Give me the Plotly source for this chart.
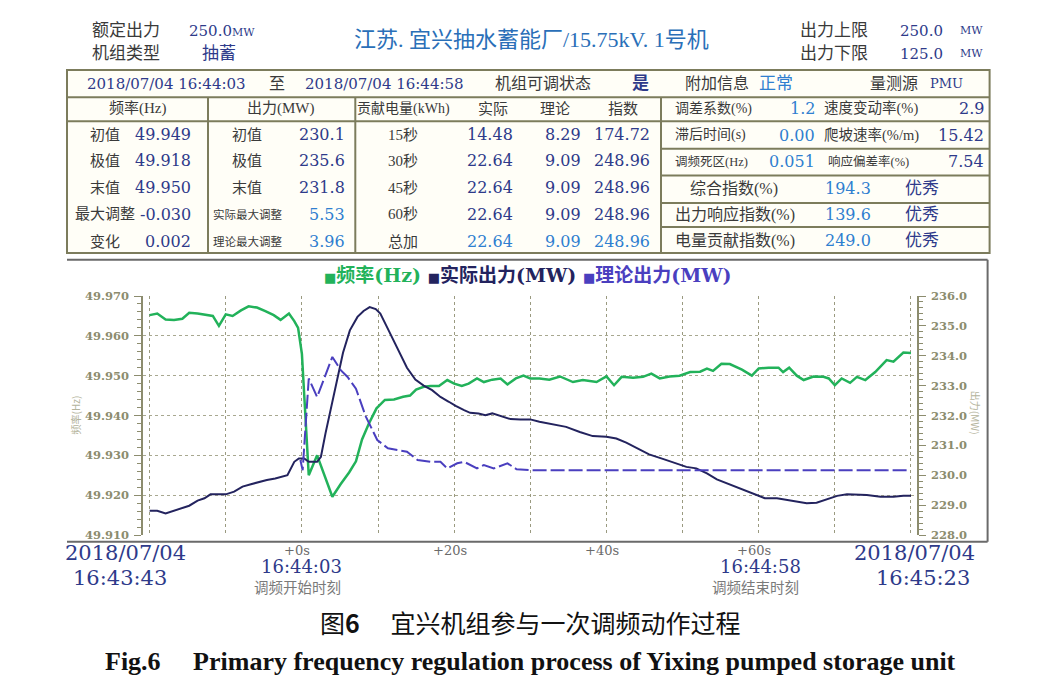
import plotly.graph_objects as go

# ---- series (t in s relative to 16:44:03) ----
t_freq = [-20, -19.0, -17.9, -16.8, -15.7, -14.8, -13.7, -12.8, -11.7, -10.9, -10.0, -9.1, -8.0, -7.0,
          -5.9, -4.8, -3.7, -2.8, -1.7, -1.0, -0.5, 0.0, 0.5, 0.9, 2.0, 2.9, 4.0, 5.1, 6.2, 7.1, 7.9,
          8.8, 9.8, 10.9, 12.1, 13.3, 14.2, 15.0, 16.0, 16.9, 18.0, 19.1, 20.0, 21.0, 21.9, 23.0, 23.9,
          25.0, 26.1, 27.0, 28.1, 29.1, 30.0, 31.2, 32.5, 33.9, 35.6, 36.9, 38.7, 40.0, 41.0, 42.0,
          43.5, 44.8, 45.9, 47.0, 48.3, 49.6, 51.0, 52.3, 53.2, 54.0, 55.1, 56.2, 57.8, 59.1, 60.0,
          61.3, 62.6, 63.2, 64.0, 65.0, 65.9, 67.2, 68.5, 69.2, 70.0, 70.9, 72.0, 72.9, 74.0, 75.3,
          76.8, 77.7, 79.0, 80.0]
freq = [49.9652, 49.9656, 49.9641, 49.9640, 49.9643, 49.9658, 49.9656, 49.9654, 49.9650, 49.9625,
        49.9654, 49.9650, 49.9664, 49.9674, 49.9671, 49.9662, 49.9652, 49.9640, 49.9656, 49.9637,
        49.9620, 49.9555, 49.9370, 49.9250, 49.9300, 49.9255, 49.9196, 49.9228, 49.9257, 49.9285,
        49.9340, 49.9380, 49.9418, 49.9439, 49.9440, 49.9447, 49.9450, 49.9465, 49.9472, 49.9474,
        49.9474, 49.9489, 49.9480, 49.9474, 49.9480, 49.9493, 49.9484, 49.9490, 49.9493, 49.9478,
        49.9493, 49.9500, 49.9493, 49.9493, 49.9490, 49.9498, 49.9484, 49.9489, 49.9484, 49.9498,
        49.9476, 49.9497, 49.9495, 49.9497, 49.9505, 49.9493, 49.9498, 49.9500, 49.9509, 49.9510,
        49.9518, 49.9512, 49.9530, 49.9529, 49.9515, 49.9500, 49.9518, 49.9520, 49.9520, 49.9509,
        49.9520, 49.9500, 49.9489, 49.9498, 49.9497, 49.9493, 49.9476, 49.9493, 49.9482, 49.9497,
        49.9489, 49.9509, 49.9539, 49.9535, 49.9558, 49.9557]

t_act = [-20, -19, -17.9, -16.8, -15.7, -14.8, -13.7, -12.8, -12.0, -10.9, -10.0, -8.9, -7.8, -6.7,
         -5.6, -4.6, -3.5, -2.6, -1.9, -1.0, -0.4, 0.3, 0.9, 2.0, 2.5, 3.1, 3.8, 4.6, 5.4, 6.3, 7.3,
         8.1, 8.9, 9.7, 10.3, 11.1, 12.1, 13.0, 13.8, 14.9, 16.0, 17.1, 18.2, 19.3, 20.2, 21.3, 22.1,
         23.2, 24.1, 25.0, 26.1, 27.4, 28.7, 30.0, 31.2, 33.0, 34.7, 36.5, 38.2, 40.0, 41.3, 42.6,
         43.9, 45.6, 47.5, 49.3, 50.5, 51.8, 53.2, 54.5, 55.8, 57.5, 59.3, 60.8, 62.4, 63.7, 65.0,
         66.3, 67.6, 68.9, 70.3, 71.6, 72.9, 74.2, 76.0, 77.7, 79.0, 80.0]
p_act = [228.81, 228.81, 228.72, 228.81, 228.89, 228.98, 229.15, 229.23, 229.36, 229.36, 229.36,
         229.45, 229.62, 229.70, 229.78, 229.84, 229.89, 229.95, 230.00, 230.45, 230.56, 230.56,
         230.45, 230.45, 230.62, 231.40, 232.20, 233.20, 234.10, 234.85, 235.30, 235.50, 235.63,
         235.56, 235.41, 235.00, 234.50, 234.00, 233.60, 233.20, 233.00, 232.85, 232.62, 232.46,
         232.32, 232.18, 232.09, 232.07, 232.01, 232.07, 231.98, 231.88, 231.87, 231.87, 231.79,
         231.71, 231.62, 231.45, 231.31, 231.29, 231.23, 231.09, 230.92, 230.70, 230.54, 230.37,
         230.28, 230.23, 230.06, 229.86, 229.73, 229.58, 229.39, 229.23, 229.23, 229.17, 229.11,
         229.06, 229.08, 229.19, 229.31, 229.36, 229.36, 229.34, 229.28, 229.28, 229.31, 229.31]

t_theo = [-0.2, 0.1, 0.9, 2.0, 4.0, 5.1, 6.0, 7.1, 8.4, 9.9, 11.3, 13.0, 13.8, 15.2, 16.9, 18.2, 19.1,
          20.4, 21.3, 23.0, 23.9, 25.2, 27.0, 28.2, 30.0, 79.5]
p_theo = [230.51, 230.17, 233.24, 232.62, 233.96, 233.52, 233.29, 232.90, 231.96, 231.18, 230.90,
          230.84, 230.79, 230.51, 230.45, 230.45, 230.23, 230.40, 230.45, 230.23, 230.34, 230.23,
          230.40, 230.20, 230.17, 230.17]

# ---- table texts ----
freq_labels = ["初值", "极值", "末值", "最大调整", "变化"]
freq_vals = ["49.949", "49.918", "49.950", "-0.030", "0.002"]
power_labels = ["初值", "极值", "末值", "实际最大调整", "理论最大调整"]
power_vals = ["230.1", "235.6", "231.8", "5.53", "3.96"]
energy_labels = ["15秒", "30秒", "45秒", "60秒", "总加"]
energy_actual = ["14.48", "22.64", "22.64", "22.64", "22.64"]
energy_theory = ["8.29", "9.09", "9.09", "9.09", "9.09"]
energy_index = ["174.72", "248.96", "248.96", "248.96", "248.96"]
param_names1 = ["调差系数(%)", "滞后时间(s)", "调频死区(Hz)"]
param_vals1 = ["1.2", "0.00", "0.051"]
param_names2 = ["速度变动率(%)", "爬坡速率(%/m)", "响应偏差率(%)"]
param_vals2 = ["2.9", "15.42", "7.54"]
index_names = ["综合指数(%)", "出力响应指数(%)", "电量贡献指数(%)"]
index_vals = ["194.3", "139.6", "249.0"]
index_grades = ["优秀", "优秀", "优秀"]

x_labels = ["+0s", "+20s", "+40s", "+60s"]
x_label_pos = [0, 20, 40, 60]

GREEN = "#22b25a"
NAVY = "#23235e"
THEO = "#4a3fbf"
VAL = "#2e3a8a"
HI = "#2f7fd0"
LAB = "#3a3a3a"
BORDER = "#7c7c5c"
TICK = "#8c8c6e"
SERIF = "Liberation Serif, Noto Sans CJK SC"
NUM = "DejaVu Serif, Noto Sans CJK SC"
CJK = "Noto Sans CJK SC"

# page has an 8px body margin, so the figure is a bit smaller and shifted
OFF = 8
W, H = 1045 - 2 * OFF, 690 - 2 * OFF
L, R, T, B = 142.7, 916.7, 295.7, 535.0   # plot area in page pixels


def fx(px):
    return (px - L) / (R - L)


def fy(py):
    return (B - py) / (B - T)


fig = go.Figure()

fig.add_trace(go.Scatter(x=t_freq, y=freq, mode="lines", name="频率(Hz)",
                         line=dict(color=GREEN, width=2.5)))
fig.add_trace(go.Scatter(x=t_act, y=p_act, mode="lines", name="实际出力(MW)", yaxis="y2",
                         line=dict(color=NAVY, width=2)))
fig.add_trace(go.Scatter(x=t_theo, y=p_theo, mode="lines", name="理论出力(MW)", yaxis="y2",
                         line=dict(color=THEO, width=2, dash="14px,4px")))

ann = []


def txt(px, py, s, size=16, color=LAB, anchor="center", family=SERIF, bold=False):
    ann.append(dict(x=fx(px), y=fy(py), xref="paper", yref="paper", text=s, showarrow=False,
                    xanchor=anchor, yanchor="middle",
                    font=dict(size=size, color=color, family=family,
                              weight="bold" if bold else "normal")))


# header above table
txt(90, 30, "额定出力", 17, LAB, "left")
txt(187, 30, "250.0<span style='font-size:11px'>MW</span>", 15, VAL, "left", NUM)
txt(90, 53, "机组类型", 17, LAB, "left")
txt(200, 53, "抽蓄", 17, VAL, "left")
txt(531, 39, "江苏. 宜兴抽水蓄能厂/15.75kV. 1号机", 22, "#2a6fb8")
txt(798, 30, "出力上限", 17, LAB, "left")
txt(945, 30, "250.0", 15, VAL, "right", NUM)
txt(958, 30, "MW", 11, VAL, "left", NUM)
txt(798, 53, "出力下限", 17, LAB, "left")
txt(945, 53, "125.0", 15, VAL, "right", NUM)
txt(958, 53, "MW", 11, VAL, "left", NUM)

# date row
txt(85, 83, "2018/07/04 16:44:03", 15, VAL, "left", NUM)
txt(277, 83, "至", 16, LAB)
txt(303, 83, "2018/07/04 16:44:58", 15, VAL, "left", NUM)
txt(493, 83, "机组可调状态", 16, LAB, "left")
txt(640, 83, "是", 17, VAL, bold=True)
txt(683, 83, "附加信息", 16, LAB, "left")
txt(757, 83, "正常", 17, HI, "left")
txt(868, 83, "量测源", 16, LAB, "left")
txt(928, 83, "PMU", 13, VAL, "left", NUM)

# column headers
txt(137, 108, "频率(Hz)", 15, LAB)
txt(281, 108, "出力(MW)", 15, LAB)
txt(403, 108, "贡献电量(kWh)", 14, LAB)
txt(493, 108, "实际", 15, LAB)
txt(555, 108, "理论", 15, LAB)
txt(623, 108, "指数", 15, LAB)

row_y = [134, 160.5, 187.3, 214, 241.5]
for i, y in enumerate(row_y):
    txt(105, y, freq_labels[i], 15, LAB)
    txt(193, y, freq_vals[i], 16, VAL, "right", NUM)
    small = i >= 3
    txt(247, y, power_labels[i], 11.5 if small else 15, LAB)
    txt(347, y, power_vals[i], 16, HI if small else VAL, "right", NUM)
    txt(403, y, energy_labels[i], 15, LAB)
    c = HI if i == 4 else VAL
    txt(515, y, energy_actual[i], 16, c, "right", NUM)
    txt(583, y, energy_theory[i], 16, c, "right", NUM)
    txt(652, y, energy_index[i], 16, c, "right", NUM)

right_y = [108.3, 134.5, 161.5]
for i, y in enumerate(right_y):
    txt(673, y, param_names1[i], 14 if i < 2 else 12.5, LAB, "left")
    txt(817, y, param_vals1[i], 16, HI, "right", NUM)
    txt(822 if i < 2 else 826, y, param_names2[i], 14.5 if i < 2 else 12.5, LAB, "left")
    txt(986, y, param_vals2[i], 16, VAL, "right", NUM)

index_y = [188.5, 214.5, 240.5]
for i, y in enumerate(index_y):
    txt(688 if i == 0 else 673, y, index_names[i], 16, LAB, "left")
    txt(848, y, index_vals[i], 16, HI, family=NUM)
    txt(903, y, index_grades[i], 17, VAL, "left")

# legend row
legend_html = ("<span style='color:%s'><span style='font-size:13px'>■</span>频率(Hz)</span> "
               "<span style='color:%s'><span style='font-size:13px'>■</span>实际出力(MW)</span> "
               "<span style='color:%s'><span style='font-size:13px'>■</span>理论出力(MW)</span>") % (
    GREEN, NAVY, THEO)
txt(528, 275, legend_html, 19, NAVY, family=NUM, bold=True)

# axis titles
ann.append(dict(x=fx(75), y=fy(415), xref="paper", yref="paper", text="频率(Hz)", textangle=-90,
                xanchor="center", yanchor="middle", showarrow=False,
                font=dict(size=10, color="#b4b49c", family=CJK)))
ann.append(dict(x=fx(976), y=fy(413), xref="paper", yref="paper", text="出力(MW)", textangle=90,
                xanchor="center", yanchor="middle", showarrow=False,
                font=dict(size=10, color="#b4b49c", family=CJK)))

# x labels
for v, s in zip(x_label_pos, x_labels):
    ann.append(dict(x=v - 0.6, y=fy(551), xref="x", yref="paper", text=s, showarrow=False,
                    yanchor="middle", font=dict(size=13, color="#6a6a6a", family=NUM)))
for v, s1, s2 in [(0, "16:44:03", "调频开始时刻"), (60.2, "16:44:58", "调频结束时刻")]:
    ann.append(dict(x=v, y=fy(567), xref="x", yref="paper", text=s1, showarrow=False,
                    yanchor="middle", font=dict(size=18, color=VAL, family=NUM)))
    ann.append(dict(x=v - 0.6, y=fy(587), xref="x", yref="paper", text=s2, showarrow=False,
                    yanchor="middle", font=dict(size=14.5, color="#7a7a7a", family=CJK)))
txt(125, 553, "2018/07/04", 21, VAL, family=NUM)
txt(120, 578, "16:43:43", 21, VAL, family=NUM)
txt(914, 553, "2018/07/04", 21, VAL, family=NUM)
txt(923, 578, "16:45:23", 21, VAL, family=NUM)

# captions
txt(530, 622, "图<b>6</b>　 宜兴机组参与一次调频动作过程", 25, "#111111", family=CJK)
txt(530, 662, "Fig.6　 Primary frequency regulation process of Yixing pumped storage unit", 26,
    "#111111", family="Liberation Serif", bold=True)

# table and frame lines
shapes = []


def line(x0, y0, x1, y1, color=BORDER, width=2):
    shapes.append(dict(type="line", xref="paper", yref="paper", x0=fx(x0), y0=fy(y0),
                       x1=fx(x1), y1=fy(y1), line=dict(color=color, width=width)))


shapes.append(dict(type="rect", xref="paper", yref="paper", x0=fx(66.7), y0=fy(69.5), x1=fx(989.3),
                   y1=fy(252.7), line=dict(color=BORDER, width=2), fillcolor="#fffef7", layer="below"))
line(66.7, 96.7, 989.3, 96.7)
line(66.7, 120.7, 989.3, 120.7)
for yy in [148.3, 175, 202.7, 226.7]:
    line(660.7, yy, 989.3, yy)
for xx in [207.7, 355, 660.7]:
    line(xx, 96.7, xx, 252.7)
line(66.7, 259.3, 987.3, 259.3, "#6a6a6a", 2)
line(987.3, 259.3, 987.3, 541.7, "#6a6a6a", 2)
line(66.7, 541.7, 987.3, 541.7, "#6a6a6a", 2)

tickfont = dict(size=11.5, color=TICK, family="DejaVu Serif", weight="bold")
fig.update_layout(
    width=W, height=H,
    margin=dict(l=L - OFF, r=W - (R - OFF), t=T - OFF, b=H - (B - OFF), autoexpand=False),
    paper_bgcolor="white", plot_bgcolor="white",
    showlegend=False,
    annotations=ann,
    shapes=shapes,
    xaxis=dict(range=[-20.87, 80.79], tick0=-20, dtick=10, showticklabels=False, ticks="",
               showgrid=True, gridcolor="#9a9a80", griddash="dot", gridwidth=1, zeroline=False,
               showline=False),
    yaxis=dict(range=[49.91, 49.97], dtick=0.01, tickformat=".3f", showgrid=True,
               gridcolor="#a8a890", griddash="dot", gridwidth=1, zeroline=False,
               showline=True, linecolor=TICK, linewidth=1.5, ticks="outside", ticklen=7,
               tickcolor=TICK, tickfont=tickfont, ticklabelstandoff=3,
               minor=dict(dtick=0.002, ticks="outside", ticklen=4, tickcolor=TICK)),
    yaxis2=dict(range=[228, 236], dtick=1, tickformat=".1f", overlaying="y", side="right",
                showgrid=False, zeroline=False, showline=True, linecolor=TICK, linewidth=1.5,
                ticks="outside", ticklen=7, tickcolor=TICK, tickfont=tickfont, ticklabelstandoff=3,
                minor=dict(dtick=0.2, ticks="outside", ticklen=4, tickcolor=TICK)),
)

fig.write_html("out.html")
